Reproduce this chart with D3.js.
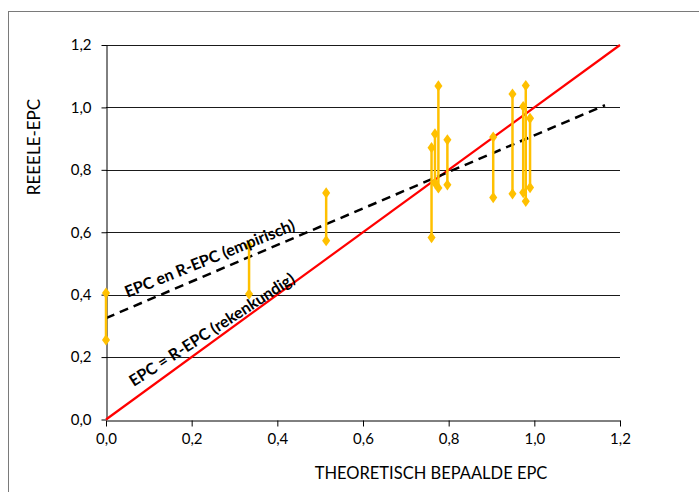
<!DOCTYPE html>
<html>
<head>
<meta charset="utf-8">
<script src="https://cdn.jsdelivr.net/npm/d3@7"></script>
<style>
  body { margin: 0; background: #fff; }
  text { font-family: Lato, "Liberation Sans", sans-serif; fill: #000; }
</style>
</head>
<body>
<div id="container"></div>
<script>
// theoretical EPC (x) with low / high measured EPC (y) per case
const theoEpc = [0, 0.334, 0.514, 0.760, 0.768, 0.776, 0.797, 0.904, 0.949, 0.974, 0.980, 0.990];
const realLow = [0.255, 0.402, 0.573, 0.583, 0.758, 0.742, 0.752, 0.711, 0.723, 0.727, 0.699, 0.743];
const realHigh = [0.405, 0.557, 0.726, 0.871, 0.915, 1.069, 0.896, 0.905, 1.043, 1.003, 1.070, 0.965];

// empirical trend line and the 1:1 line
const trendX = [0, 1.165];
const trendY = [0.325, 1.007];
const equalX = [0, 1.2];
const equalY = [0, 1.2];

const tickValues = [0, 0.2, 0.4, 0.6, 0.8, 1.0, 1.2];
const fmt = d => d3.format(".1f")(d).replace(".", ",");

const w = 699;
const h = 492;

const xScale = d3.scaleLinear().domain([0, 1.2]).range([106, 620]);
const yScale = d3.scaleLinear().domain([0, 1.2]).range([419.5, 45]);

var svg = d3.select("#container")
            .append("svg")
            .attr("width", w)
            .attr("height", h);

// outer frame (runs off the right / bottom edge)
svg.append("rect")
   .attr("x", 8.5).attr("y", 11.5)
   .attr("width", w + 20).attr("height", h + 20)
   .attr("fill", "none")
   .attr("stroke", "#7a7a7a");

// horizontal gridlines
svg.append("g")
   .selectAll("line")
   .data(tickValues.slice(1))
   .enter()
   .append("line")
   .attr("x1", xScale(0)).attr("x2", xScale(1.2))
   .attr("y1", d => Math.round(yScale(d)) + 0.5)
   .attr("y2", d => Math.round(yScale(d)) + 0.5)
   .attr("stroke", "#1a1a1a")
   .attr("stroke-width", 1);

const xAxis = d3.axisBottom(xScale).tickValues(tickValues).tickFormat(fmt).tickSize(6).tickSizeOuter(0).tickPadding(7);
const yAxis = d3.axisLeft(yScale).tickValues(tickValues).tickFormat(fmt).tickSize(5).tickSizeOuter(0).tickPadding(10);

svg.append("g")
   .attr("transform", "translate(0," + (Math.round(yScale(0)) + 0.5) + ")")
   .call(xAxis)
   .call(g => g.selectAll("text").style("font-size", "15px").attr("fill", "#000"))
   .call(g => g.selectAll("line, path").attr("stroke", "#000"));

svg.append("g")
   .attr("transform", "translate(" + (xScale(0) + 0.5) + ",0)")
   .call(yAxis)
   .call(g => g.selectAll("text").style("font-size", "15px").attr("fill", "#000"))
   .call(g => g.selectAll("line, path").attr("stroke", "#000"));

// 1:1 line
const line = d3.line().x(d => xScale(d[0])).y(d => yScale(d[1]));
svg.append("path")
   .datum(d3.zip(equalX, equalY))
   .attr("d", line)
   .attr("fill", "none")
   .attr("stroke", "#ff0000")
   .attr("stroke-width", 2.2);

// empirical dashed line
svg.append("path")
   .datum(d3.zip(trendX, trendY))
   .attr("d", line)
   .attr("fill", "none")
   .attr("stroke", "#000")
   .attr("stroke-width", 2.5)
   .attr("stroke-dasharray", "9,6");

// range bars
const bars = d3.zip(theoEpc, realLow, realHigh);
svg.append("g")
   .selectAll("line")
   .data(bars)
   .enter()
   .append("line")
   .attr("x1", d => xScale(d[0])).attr("x2", d => xScale(d[0]))
   .attr("y1", d => yScale(d[1])).attr("y2", d => yScale(d[2]))
   .attr("stroke", "#ffc000")
   .attr("stroke-width", 2.5);

const diamond = d3.symbol().type(d3.symbolDiamond).size(36);
const ends = bars.flatMap(d => [[d[0], d[1]], [d[0], d[2]]]);
svg.append("g")
   .selectAll("path")
   .data(ends)
   .enter()
   .append("path")
   .attr("d", diamond)
   .attr("transform", d => "translate(" + xScale(d[0]) + "," + yScale(d[1]) + ") scale(1.25,1)")
   .attr("fill", "#ffc000");

// annotations
svg.append("text")
   .attr("transform", "translate(" + xScale(0.05) + "," + yScale(0.39) + ") rotate(-22)")
   .style("font-size", "16px")
   .style("font-weight", "bold")
   .text("EPC en R-EPC (empirisch)");

svg.append("text")
   .attr("transform", "translate(" + xScale(0.065) + "," + yScale(0.104) + ") rotate(-33)")
   .style("font-size", "16px")
   .style("font-weight", "bold")
   .text("EPC = R-EPC (rekenkundig)");

// axis titles
svg.append("text")
   .attr("x", 431).attr("y", 479)
   .attr("text-anchor", "middle")
   .style("font-size", "16.5px")
   .text("THEORETISCH BEPAALDE EPC");

svg.append("text")
   .attr("transform", "translate(40,147) rotate(-90)")
   .attr("text-anchor", "middle")
   .style("font-size", "17px")
   .text("REEELE-EPC");
</script>
</body>
</html>
